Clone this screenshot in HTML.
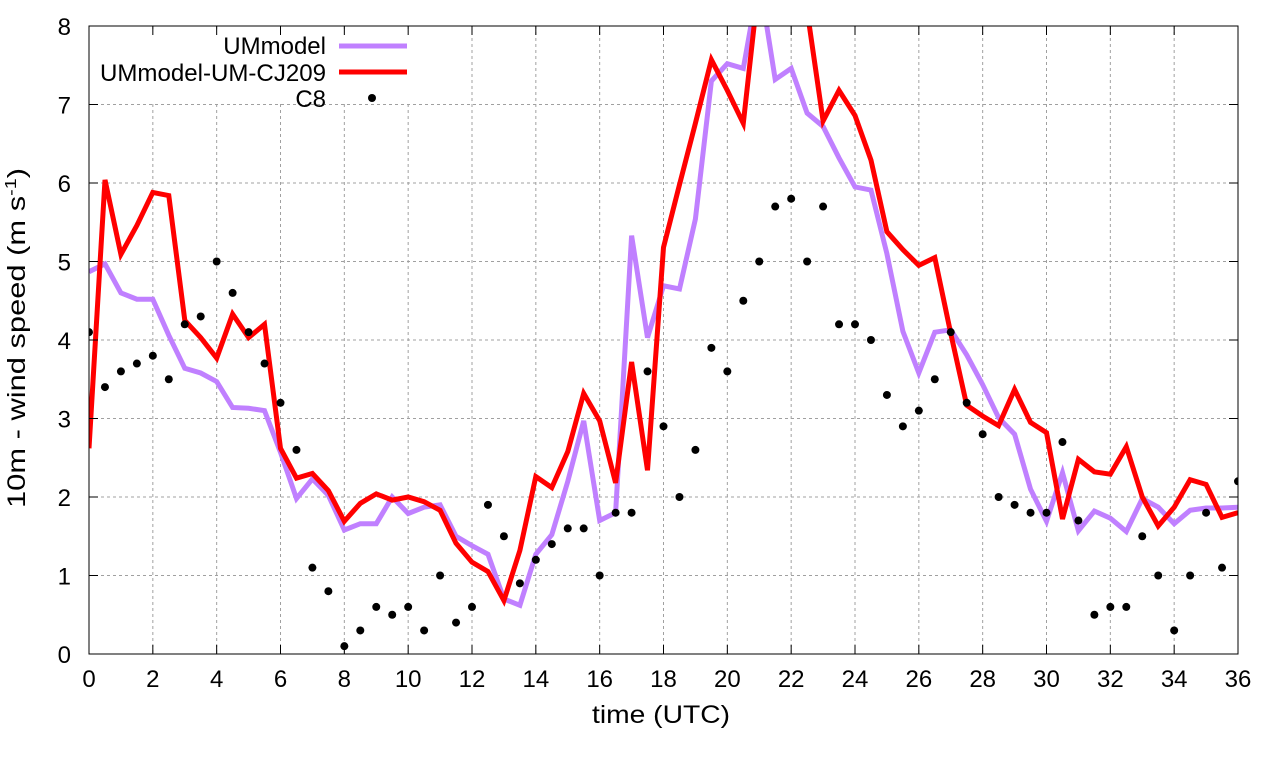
<!DOCTYPE html>
<html><head><meta charset="utf-8"><style>
html,body{margin:0;padding:0;background:#fff;}
svg text{font-family:"Liberation Sans",sans-serif;fill:#000;}
</style></head><body>
<svg id="chart" width="1280" height="760" viewBox="0 0 1280 760" xmlns="http://www.w3.org/2000/svg">
<defs><clipPath id="clip"><rect x="89" y="26" width="1149" height="628"/></clipPath></defs>
<g id="grid"></g>
<rect x="92" y="29" width="326" height="74" fill="#fff"/>
<g id="series" clip-path="url(#clip)"></g>
<g id="axes"></g>
<g>
<text x="326" y="54" font-size="24" text-anchor="end">UMmodel</text>
<line x1="339" y1="46" x2="407" y2="46" stroke="#c080ff" stroke-width="5"/>
<text x="326" y="81" font-size="24" text-anchor="end" textLength="226" lengthAdjust="spacingAndGlyphs">UMmodel-UM-CJ209</text>
<line x1="339" y1="72" x2="407" y2="72" stroke="#ff0000" stroke-width="5"/>
<text x="326" y="107" font-size="24" text-anchor="end">C8</text>
<circle cx="372" cy="98" r="4" fill="#000"/>
</g>
<text x="661" y="723" font-size="25" text-anchor="middle" textLength="138" lengthAdjust="spacingAndGlyphs">time (UTC)</text>
<text transform="translate(25,338) rotate(-90)" font-size="25" text-anchor="middle" textLength="340" lengthAdjust="spacingAndGlyphs">10m - wind speed  (m s<tspan font-size="16" dy="-9">-1</tspan><tspan dy="9">)</tspan></text>
</svg>
<script>
const times = [];
for (let i = 0; i <= 72; i++) times.push(i / 2);
const umModel = [4.87,4.97,4.6,4.52,4.52,4.06,3.64,3.58,3.47,3.14,3.13,3.1,2.57,1.98,2.23,2.02,1.58,1.66,1.66,2.0,1.79,1.87,1.9,1.5,1.38,1.27,0.7,0.62,1.27,1.52,2.2,2.97,1.7,1.8,5.33,4.03,4.69,4.65,5.54,7.3,7.52,7.46,8.6,7.32,7.46,6.89,6.72,6.32,5.95,5.91,5.1,4.11,3.58,4.1,4.13,3.81,3.43,3.01,2.8,2.1,1.69,2.31,1.57,1.82,1.73,1.56,1.98,1.87,1.66,1.83,1.86,1.86,1.87];
const umCJ209 = [2.62,6.04,5.09,5.46,5.88,5.84,4.25,4.03,3.77,4.33,4.03,4.2,2.62,2.24,2.3,2.08,1.69,1.92,2.04,1.96,2.0,1.94,1.83,1.41,1.17,1.05,0.68,1.32,2.26,2.12,2.58,3.32,2.97,2.18,3.72,2.34,5.18,5.98,6.76,7.57,7.18,6.76,8.6,9.2,9.0,8.2,6.79,7.18,6.86,6.29,5.38,5.15,4.95,5.05,4.08,3.17,3.03,2.91,3.37,2.95,2.82,1.72,2.48,2.32,2.29,2.64,2.0,1.63,1.87,2.22,2.16,1.74,1.8];
const c8 = [4.1,3.4,3.6,3.7,3.8,3.5,4.2,4.3,5.0,4.6,4.1,3.7,3.2,2.6,1.1,0.8,0.1,0.3,0.6,0.5,0.6,0.3,1.0,0.4,0.6,1.9,1.5,0.9,1.2,1.4,1.6,1.6,1.0,1.8,1.8,3.6,2.9,2.0,2.6,3.9,3.6,4.5,5.0,5.7,5.8,5.0,5.7,4.2,4.2,4.0,3.3,2.9,3.1,3.5,4.1,3.2,2.8,2.0,1.9,1.8,1.8,2.7,1.7,0.5,0.6,0.6,1.5,1.0,0.3,1.0,1.8,1.1,2.2];
const xTicks = [0,2,4,6,8,10,12,14,16,18,20,22,24,26,28,30,32,34,36];
const yTicks = [0,1,2,3,4,5,6,7,8];

const X0=89,X1=1238,Y0=654,Y1=26;
const xs = t => X0 + (t-0)/(36-0)*(X1-X0);
const ys = v => Y0 - v/8*(Y0-Y1);
const NS="http://www.w3.org/2000/svg";
function mk(tag, attrs, parent){const e=document.createElementNS(NS,tag);for(const k in attrs)e.setAttribute(k,attrs[k]);parent.appendChild(e);return e;}
const grid=document.getElementById('grid'), series=document.getElementById('series'), axes=document.getElementById('axes');
xTicks.forEach(t=>{
  const x=xs(t);
  if(t>0&&t<36){const l=mk('line',{x1:x,y1:Y1,x2:x,y2:Y0,stroke:'#a0a0a0','stroke-width':1,'stroke-dasharray':'3,3'},grid);
  
  }
  const tk=mk('path',{d:`M${x},${Y0}v-9M${x},${Y1}v9`,stroke:'#000','stroke-width':1},axes);
  
  
  const tx=mk('text',{x:x,y:Y0+33,'font-size':24,'text-anchor':'middle'},axes);tx.textContent=t;
  
  
});
yTicks.forEach(v=>{
  const y=ys(v);
  if(v>0&&v<8){const l=mk('line',{x1:X0,y1:y,x2:X1,y2:y,stroke:'#a0a0a0','stroke-width':1,'stroke-dasharray':'3,3'},grid);
  
  }
  const tk=mk('path',{d:`M${X0},${y}h9M${X1},${y}h-9`,stroke:'#000','stroke-width':1},axes);
  
  
  const tx=mk('text',{x:X0-18,y:y+9,'font-size':24,'text-anchor':'end'},axes);tx.textContent=v;
  
  
});
const frame=mk('rect',{x:X0,y:Y1,width:X1-X0,height:Y0-Y1,fill:'none',stroke:'#000','stroke-width':1},axes);


function line(vals,color,name){
  const d=vals.map((v,i)=>(i?'L':'M')+xs(times[i]).toFixed(1)+','+ys(v).toFixed(1)).join('');
  const p=mk('path',{d:d,fill:'none',stroke:color,'stroke-width':5,'stroke-linejoin':'miter'},series);
  
  
}
line(umModel,'#c080ff','ummodel-line');
line(umCJ209,'#ff0000','ummodel-um-cj209-line');
c8.forEach((v,i)=>{
  const c=mk('circle',{cx:xs(times[i]),cy:ys(v),r:4,fill:'#000'},series);
  
  
});
</script>
</body></html>
